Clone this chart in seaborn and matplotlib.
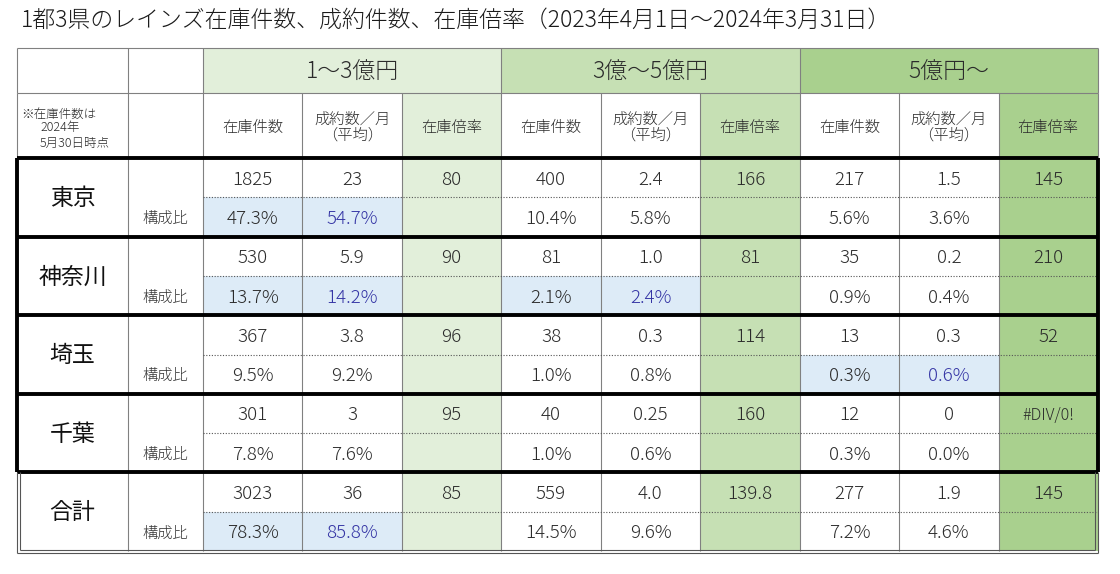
import numpy as np
import matplotlib
matplotlib.use("Agg")
import matplotlib.pyplot as plt
from matplotlib.colors import ListedColormap
import seaborn as sns

# table contents
title = "1都3県のレインズ在庫件数、成約件数、在庫倍率（2023年4月1日～2024年3月31日）"
note = ["※在庫件数は", "2024年", "5月30日時点"]
bands = ["1～3億円", "3億～5億円", "5億円～"]
col_heads = ["在庫件数", "成約数／月\n（平均）", "在庫倍率"]
prefs = ["東京", "神奈川", "埼玉", "千葉", "合計"]
stock = [[1825, 400, 217], [530, 81, 35], [367, 38, 13], [301, 40, 12], [3023, 559, 277]]
deals = [["23", "2.4", "1.5"], ["5.9", "1.0", "0.2"], ["3.8", "0.3", "0.3"],
         ["3", "0.25", "0"], ["36", "4.0", "1.9"]]
ratio = [["80", "166", "145"], ["90", "81", "210"], ["96", "114", "52"],
         ["95", "160", "#DIV/0!"], ["85", "139.8", "145"]]
stock_share = [[47.3, 10.4, 5.6], [13.7, 2.1, 0.9], [9.5, 1.0, 0.3], [7.8, 1.0, 0.3], [78.3, 14.5, 7.2]]
deal_share = [[54.7, 5.8, 3.6], [14.2, 2.4, 0.4], [9.2, 0.8, 0.6], [7.6, 0.6, 0.0], [85.8, 9.6, 4.6]]
# (prefecture, band) pairs whose share cells are shaded blue
highlight = [(0, 0), (1, 0), (1, 1), (2, 2), (4, 0)]

sns.set_theme(style="white")
plt.rcParams["font.family"] = ["Noto Sans CJK JP", "DejaVu Sans"]
plt.rcParams["font.weight"] = "light"

W, H = 1120, 574
fig = plt.figure(figsize=(W / 100, H / 100), dpi=100)
fig.patch.set_facecolor("white")

# geometry in pixels
x0, x1, x2, xr = 17, 128, 203, 1098
y_top, y_h1, y_h2, y_bot = 48, 93, 158, 551
xe = [x0, x1] + list(np.linspace(x2, xr, 10))
ye = list(np.linspace(y_h2, y_bot, 11))

fills = ["white", "#ddebf7", "#e2efda", "#c6e0b4", "#a9d08e"]

# fill codes for the data cells
codes = np.zeros((10, 9), dtype=int)
for r in range(10):
    p, sub = r // 2, r % 2
    for c in range(9):
        b, k = c // 3, c % 3
        if k == 2:
            codes[r, c] = 2 + b
        elif sub == 1 and (p, b) in highlight:
            codes[r, c] = 1

ax_hm = fig.add_axes([x2 / W, 1 - y_bot / H, (xr - x2) / W, (y_bot - y_h2) / H])
sns.heatmap(codes, cmap=ListedColormap(fills), vmin=-0.5, vmax=4.5, cbar=False,
            xticklabels=False, yticklabels=False, ax=ax_hm)
ax_hm.axis("off")

ax = fig.add_axes([0, 0, 1, 1])
ax.set_xlim(0, W)
ax.set_ylim(H, 0)
ax.axis("off")
ax.patch.set_alpha(0)

# header fills
for b in range(3):
    xa, xb = xe[2 + 3 * b], xe[5 + 3 * b]
    ax.fill_between([xa, xb], y_top, y_h1, color=fills[2 + b], lw=0)
    ax.fill_between([xe[4 + 3 * b], xb], y_h1, y_h2, color=fills[2 + b], lw=0)

gray = "#808080"
thin = 0.8
# header grid
ax.hlines([y_top, y_h1], x0, xr, color=gray, lw=thin)
ax.vlines([x0, x1, x2, xe[5], xe[8], xr], y_top, y_h1, color=gray, lw=thin)
ax.vlines(xe, y_h1, y_h2, color=gray, lw=thin)
ax.vlines(xe[1:-1], y_h2, y_bot, color=gray, lw=thin)

# dotted lines between value row and share row
for p in range(5):
    ax.hlines(ye[2 * p + 1], x2, xr, color="#555555", lw=0.8, linestyles=(0, (1, 1.5)))

# thick borders around the prefecture blocks
ax.hlines(ye[0:9:2], x0, xr, color="black", lw=2.8)
ax.vlines([x0, xr], ye[0], ye[8], color="black", lw=2.8)

# double border around total block
ax.vlines([x0, xr], ye[8], y_bot + 2, color="#555555", lw=thin)
ax.vlines([x0 + 3, xr - 3], ye[8], y_bot - 1, color="#555555", lw=thin)
ax.hlines(y_bot + 2, x0, xr, color="#555555", lw=thin)
ax.hlines(y_bot - 1, x0 + 3, xr - 3, color="#555555", lw=thin)

txt = "#2b2b2b"
blue = "#3535a5"
dy = 2  # CJK glyphs sit a little high with va="center"

ax.text(21, 20, title, ha="left", va="center", fontsize=16.5, color="#1a1a1a")

for b, name in enumerate(bands):
    xc = (xe[2 + 3 * b] + xe[5 + 3 * b]) / 2
    ax.text(xc, (y_top + y_h1) / 2 + dy, name, ha="center", va="center", fontsize=16.5, color=txt)
    for k, head in enumerate(col_heads):
        xc = (xe[2 + 3 * b + k] + xe[3 + 3 * b + k]) / 2
        ax.text(xc, (y_h1 + y_h2) / 2 + dy, head, ha="center", va="center",
                fontsize=11, color=txt, linespacing=1.05)

ax.text(21, 114, note[0], ha="left", va="center", fontsize=9, color=txt)
ax.text(40, 128, note[1], ha="left", va="center", fontsize=9, color=txt)
ax.text(40, 143, note[2], ha="left", va="center", fontsize=9, color=txt)

for p, name in enumerate(prefs):
    yu = (ye[2 * p] + ye[2 * p + 1]) / 2 + dy
    yl = (ye[2 * p + 1] + ye[2 * p + 2]) / 2 + dy
    ax.text((x0 + x1) / 2, ye[2 * p + 1] + 1, name, ha="center", va="center", fontsize=16.5,
            color="#111111", fontweight="normal")
    ax.text((x1 + x2) / 2, yl, "構成比", ha="center", va="center", fontsize=11, color="#333333")
    for b in range(3):
        cx = [(xe[2 + 3 * b + k] + xe[3 + 3 * b + k]) / 2 for k in range(3)]
        ax.text(cx[0], yu, str(stock[p][b]), ha="center", va="center", fontsize=13.5, color=txt)
        ax.text(cx[1], yu, deals[p][b], ha="center", va="center", fontsize=13.5, color=txt)
        rfs = 11.5 if ratio[p][b].startswith("#") else 13.5
        ax.text(cx[2], yu, ratio[p][b], ha="center", va="center", fontsize=rfs, color=txt)
        ax.text(cx[0], yl, f"{stock_share[p][b]:.1f}%", ha="center", va="center", fontsize=13.5, color=txt)
        dcol = blue if (p, b) in highlight else txt
        ax.text(cx[1], yl, f"{deal_share[p][b]:.1f}%", ha="center", va="center", fontsize=13.5, color=dcol)

fig.savefig("out.png", dpi=100, facecolor="white")
